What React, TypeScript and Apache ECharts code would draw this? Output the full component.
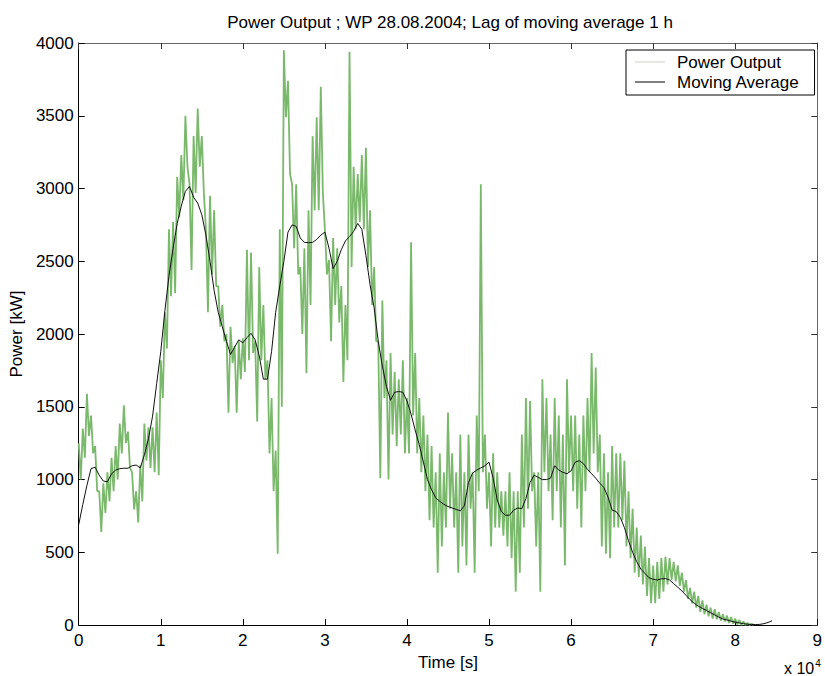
import React, { useEffect, useRef } from "react";
import * as echarts from "echarts";

const FONT = "'Liberation Sans', Arial, Helvetica, sans-serif";

const chartTitle = "Power Output ; WP 28.08.2004; Lag of moving average 1 h";
const xAxisName = "Time [s]";
const yAxisName = "Power [kW]";
const seriesNames = ["Power Output", "Moving Average"];

// Power output samples: envelope (high / low) read every 500 s from 0 s to 82 000 s
const POWER_STEP = 500;
const powerHigh = [
  1250, 1350, 1590, 1440, 1230, 920, 975, 1050, 1150, 1230, 1385, 1510, 1330, 1050, 920, 1100, 1385, 1360, 1360, 1460,
  1820, 2150, 2720, 2770, 3080, 3230, 3500, 3030, 3360, 3550, 3360, 2720, 2950, 2850, 2330, 2200, 2000, 2050, 1920, 1950,
  1970, 2580, 2560, 1950, 2460, 2200, 1820, 1560, 1200, 2720, 3950, 3740, 3030, 3030, 2460, 2590, 2850, 3360, 3490, 3700,
  2720, 2510, 2660, 2590, 2330, 2200, 3940, 3150, 3100, 3230, 3280, 2850, 2460, 1950, 2230, 1820, 1870, 1740, 1690, 1820,
  1560, 2630, 1870, 1560, 1440, 1310, 1230, 1050, 1180, 1050, 1460, 1180, 1050, 1310, 1050, 1310, 1050, 1440, 3030, 1310,
  1050, 1180, 1050, 920, 920, 1050, 920, 920, 1310, 1560, 1540, 1050, 1050, 1690, 1560, 1310, 1560, 1440, 1310, 1690,
  1440, 1440, 1310, 1440, 1560, 1870, 1770, 1310, 1180, 1050, 1230, 1180, 1180, 1130, 920, 800, 670, 615, 540, 460,
  410, 435, 460, 470, 460, 435, 410, 360, 310, 255, 230, 200, 170, 140, 120, 110, 90, 75, 65, 55,
  45, 35, 25, 15, 10,
];
const powerLow = [
  1000, 1150, 1300, 1180, 920, 640, 770, 850, 920, 1000, 1180, 1250, 1080, 795, 705, 850, 1130, 1080, 1050, 1030,
  1560, 1900, 2260, 2280, 2800, 2920, 3150, 2440, 2970, 3150, 2970, 2150, 2410, 2330, 2050, 1950, 1460, 1800, 1460, 1690,
  1740, 1820, 1870, 1400, 1820, 1690, 1180, 920, 490, 1500, 3490, 3100, 2590, 2410, 2000, 1730, 2200, 2850, 2850, 2970,
  2410, 1950, 2200, 2080, 1670, 1820, 2460, 2720, 2770, 2720, 2460, 2200, 1950, 1010, 1560, 1000, 1310, 1230, 1310, 1180,
  1180, 1440, 1180, 1050, 920, 720, 670, 360, 540, 670, 800, 670, 360, 540, 410, 800, 360, 920, 1050, 800,
  540, 670, 670, 615, 540, 460, 230, 360, 670, 800, 920, 540, 230, 1050, 920, 720, 920, 670, 410, 1050,
  920, 800, 670, 920, 1050, 1180, 1050, 540, 490, 460, 670, 670, 720, 540, 460, 360, 330, 280, 200, 150,
  150, 180, 230, 280, 310, 300, 270, 230, 180, 150, 120, 90, 75, 60, 45, 40, 30, 25, 15, 10,
  5, 0, 0, 0, 0,
];

// Moving average, read every 500 s from 0 s to 84 500 s
const MA_STEP = 500;
const movingAverage = [
  690, 830, 960, 1075, 1085, 1030, 990, 985, 1040, 1065, 1075, 1078, 1078, 1095, 1100, 1080, 1170, 1280, 1436, 1660,
  1880, 2160, 2400, 2590, 2760, 2880, 2980, 3015, 2940, 2900, 2820, 2680, 2500, 2300, 2150, 2050, 1950, 1860, 1910, 1960,
  1940, 1975, 2005, 1960, 1850, 1690, 1690, 1880, 2150, 2330, 2500, 2700, 2750, 2740, 2660, 2630, 2628, 2630, 2650, 2680,
  2700, 2590, 2450, 2500, 2580, 2640, 2670, 2705, 2760, 2720, 2540, 2340, 2180, 1950, 1780, 1640, 1545, 1600, 1605, 1600,
  1540, 1450, 1340, 1240, 1120, 1000, 930, 875, 850, 830, 815, 805, 795, 785, 820, 980, 1045, 1065, 1080, 1095,
  1120, 1010, 860, 780, 755, 755, 790, 805, 800, 870, 980, 1030, 1015, 1000, 1000, 1010, 1095, 1065, 1050, 1040,
  1060, 1120, 1130, 1110, 1070, 1040, 1010, 975, 945, 880, 790, 780, 740, 670, 580, 500, 435, 385, 355, 325,
  315, 310, 318, 320, 310, 285, 260, 235, 205, 175, 150, 130, 115, 100, 85, 70, 55, 42, 35, 27,
  20, 15, 10, 6, 4, 4, 5, 10, 18, 30,
];

const xTickMax = 90000;
const xTickStep = 10000;
const yTickMax = 4000;
const yTickStep = 500;

export default function App() {
  const ref = useRef<HTMLDivElement>(null);

  useEffect(() => {
    if (!ref.current) return;
    const chart = echarts.init(ref.current, null, { renderer: "svg" });

    const powerData: number[][] = [];
    for (let i = 0; i < powerHigh.length; i++) {
      powerData.push([i * POWER_STEP, powerHigh[i]]);
      powerData.push([i * POWER_STEP + POWER_STEP / 2, powerLow[i]]);
    }
    const maData = movingAverage.map((v, i) => [i * MA_STEP, v]);

    const baseText = { fontFamily: FONT, fontSize: 17, color: "#000" };

    chart.setOption({
      animation: false,
      backgroundColor: "#fff",
      textStyle: { fontFamily: FONT },
      grid: { left: 78, right: 3, top: 43, bottom: 49, containLabel: false },
      legend: {
        orient: "vertical",
        left: 626,
        top: 50,
        padding: [2, 15, 3, 9],
        itemGap: 0,
        itemWidth: 30,
        itemHeight: 1,
        icon: "rect",
        borderColor: "#000",
        borderWidth: 1,
        borderRadius: 0,
        backgroundColor: "#fff",
        formatter: "{a|{name}}",
        textStyle: {
          ...baseText,
          lineHeight: 20,
          rich: { a: { ...baseText, lineHeight: 20, padding: [0, 0, 0, 7] } },
        },
        data: [
          { name: seriesNames[0], itemStyle: { color: "#c9d3c2", borderWidth: 0 } },
          { name: seriesNames[1], itemStyle: { color: "#000", borderWidth: 0 } },
        ],
      },
      xAxis: [
        {
          type: "value",
          position: "bottom",
          min: 0,
          max: xTickMax,
          interval: xTickStep,
          name: xAxisName,
          nameLocation: "middle",
          nameGap: 27,
          nameTextStyle: baseText,
          axisLine: { show: true, onZero: false, lineStyle: { color: "#000", width: 1 } },
          axisTick: { show: true, inside: true, length: 6, lineStyle: { color: "#000" } },
          axisLabel: { ...baseText, margin: 7, formatter: (v: number) => String(v / 10000) },
          splitLine: { show: false },
        },
        {
          type: "value",
          position: "top",
          min: 0,
          max: xTickMax,
          interval: xTickStep,
          axisLine: { show: true, onZero: false, lineStyle: { color: "#666", width: 1 } },
          axisTick: { show: true, inside: true, length: 6, lineStyle: { color: "#333" } },
          axisLabel: { show: false },
          splitLine: { show: false },
        },
      ],
      yAxis: [
        {
          type: "value",
          position: "left",
          min: 0,
          max: yTickMax,
          interval: yTickStep,
          name: yAxisName,
          nameLocation: "middle",
          nameGap: 50,
          nameTextStyle: baseText,
          axisLine: { show: true, onZero: false, lineStyle: { color: "#000", width: 1 } },
          axisTick: { show: true, inside: true, length: 6, lineStyle: { color: "#000" } },
          axisLabel: { ...baseText, margin: 5, formatter: (v: number) => String(v) },
          splitLine: { show: false },
        },
        {
          type: "value",
          position: "right",
          min: 0,
          max: yTickMax,
          interval: yTickStep,
          axisLine: { show: true, onZero: false, lineStyle: { color: "#666", width: 1 } },
          axisTick: { show: true, inside: true, length: 6, lineStyle: { color: "#333" } },
          axisLabel: { show: false },
          splitLine: { show: false },
        },
      ],
      graphic: [
        {
          type: "text",
          x: 450,
          y: 22,
          style: {
            text: chartTitle,
            align: "center",
            verticalAlign: "middle",
            font: `17px ${FONT}`,
            fill: "#000",
          },
        },
        {
          type: "text",
          x: 784,
          y: 668,
          style: {
            text: "x 10{sup|4}",
            align: "left",
            verticalAlign: "middle",
            font: `16px ${FONT}`,
            fill: "#000",
            rich: {
              sup: { fontSize: 10, fontFamily: FONT, fill: "#000", verticalAlign: "top", padding: [0, 0, 10, 1] },
            },
          },
        },
      ],
      series: [
        {
          name: seriesNames[0],
          type: "line",
          xAxisIndex: 0,
          yAxisIndex: 0,
          data: powerData,
          symbol: "none",
          showSymbol: false,
          lineStyle: { color: "#7ab86b", width: 1.8 },
          itemStyle: { color: "#7ab86b" },
          z: 2,
        },
        {
          name: seriesNames[1],
          type: "line",
          xAxisIndex: 0,
          yAxisIndex: 0,
          data: maData,
          symbol: "none",
          showSymbol: false,
          lineStyle: { color: "#111", width: 1 },
          itemStyle: { color: "#111" },
          z: 3,
        },
      ],
    });

    return () => chart.dispose();
  }, []);

  return (
    <div
      ref={ref}
      style={{ position: "fixed", left: 0, top: 0, width: 825, height: 676, background: "#fff" }}
    />
  );
}
